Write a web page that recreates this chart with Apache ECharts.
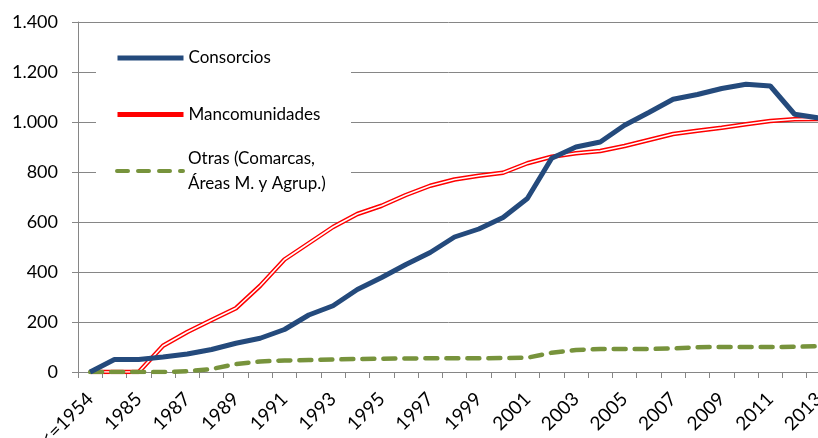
<!DOCTYPE html>
<html>
<head>
<meta charset="utf-8">
<script src="https://cdn.jsdelivr.net/npm/echarts@6/dist/echarts.min.js"></script>
<style>
  html, body { margin: 0; padding: 0; background: #fff; }
  #chart { width: 818px; height: 438px; }
</style>
</head>
<body>
<div id="chart"></div>
<script>
// categorias del eje x (la segunda no lleva etiqueta visible)
var categories = ['<=1954', '1984', '1985', '1986', '1987', '1988', '1989', '1990', '1991', '1992',
  '1993', '1994', '1995', '1996', '1997', '1998', '1999', '2000', '2001', '2002',
  '2003', '2004', '2005', '2006', '2007', '2008', '2009', '2010', '2011', '2012', '2013'];

var consorcios = [0, 50, 50, 60, 72, 90, 115, 135, 170, 228, 265, 330, 378, 430, 478, 540,
  572, 618, 694, 855, 900, 920, 987, 1038, 1091, 1110, 1134, 1151, 1144, 1031, 1016];

var mancomunidades = [0, 0, 0, 105, 160, 208, 255, 345, 450, 515, 580, 632, 665, 708, 745, 770,
  785, 797, 835, 861, 875, 884, 904, 928, 952, 965, 977, 991, 1004, 1011, 1012];

var otras = [0, 0, 0, 0, 3, 12, 32, 42, 46, 48, 50, 52, 53, 54, 55, 55,
  55, 56, 57, 77, 88, 92, 92, 92, 94, 99, 100, 100, 100, 101, 103];

var yTicks = [0, 200, 400, 600, 800, 1000, 1200, 1400];

var nombreOtras = 'Otras (Comarcas, Áreas M. y Agrup.)';
var gris = '#868686';

var myChart = echarts.init(document.getElementById('chart'));

function miles(v) {
  return String(v).replace(/\B(?=(\d{3})+(?!\d))/g, '.');
}

var legendText = { fontSize: 17, lineHeight: 25, color: '#000', fontFamily: 'Lato' };

var option = {
  animation: false,
  textStyle: { fontFamily: 'Lato' },
  grid: { left: 78, top: 22, width: 753, height: 350, outerBoundsMode: 'none', containLabel: false },
  legend: [
    {
      data: ['Consorcios'], left: 115, top: 45.5, padding: 0,
      itemWidth: 66, itemHeight: 14, lineStyle: { width: 5 }, itemStyle: { opacity: 0 },
      textStyle: legendText
    },
    {
      data: ['Mancomunidades'], left: 115, top: 102, padding: 0,
      itemWidth: 66, itemHeight: 14, lineStyle: { width: 5 }, itemStyle: { opacity: 0 },
      textStyle: legendText
    },
    {
      data: [nombreOtras], left: 115, top: 133.5, padding: 0,
      itemWidth: 66, itemHeight: 14, itemStyle: { opacity: 0 },
      lineStyle: { width: 4, type: [11, 10], cap: 'round' },
      formatter: function () { return 'Otras (Comarcas,\nÁreas M. y Agrup.)'; },
      textStyle: {
        fontSize: 17, lineHeight: 25, color: '#000', fontFamily: 'Lato',
        padding: [25, 0, 0, 0]
      }
    }
  ],
  graphic: [
    { type: 'rect', z: 1, shape: { x: 96, y: 30, width: 255, height: 180 }, style: { fill: '#fff' } }
  ],
  xAxis: {
    type: 'category',
    data: categories,
    boundaryGap: true,
    axisLine: { lineStyle: { color: gris, width: 1 } },
    axisTick: { show: true, interval: 0, length: 6, lineStyle: { color: gris } },
    axisLabel: { interval: 1, rotate: 45, fontSize: 19, color: '#000', margin: 24 }
  },
  yAxis: {
    type: 'value',
    min: yTicks[0],
    max: yTicks[yTicks.length - 1],
    interval: 200,
    axisLine: { show: true, lineStyle: { color: gris } },
    axisTick: { show: true, length: 6, lineStyle: { color: gris } },
    axisLabel: { fontSize: 18, color: '#000', margin: 20, formatter: miles },
    splitLine: { lineStyle: { color: gris, width: 1 } }
  },
  series: [
    {
      name: 'Mancomunidades', type: 'line', data: mancomunidades,
      symbol: 'none', z: 2,
      lineStyle: { color: '#ff0000', width: 4.5 },
      itemStyle: { color: '#ff0000' }
    },
    {
      name: 'mancoInterior', type: 'line', data: mancomunidades,
      symbol: 'none', z: 3,
      lineStyle: { color: '#ffffff', width: 1.6 },
      itemStyle: { color: '#ffffff' }
    },
    {
      name: nombreOtras, type: 'line', data: otras,
      symbol: 'none', z: 4,
      lineStyle: { color: '#77933c', width: 4.5, type: [12, 9], cap: 'round' },
      itemStyle: { color: '#77933c' }
    },
    {
      name: 'Consorcios', type: 'line', data: consorcios,
      symbol: 'none', z: 5,
      lineStyle: { color: '#244a7c', width: 5 },
      itemStyle: { color: '#244a7c' }
    }
  ]
};

myChart.setOption(option);
</script>
</body>
</html>
